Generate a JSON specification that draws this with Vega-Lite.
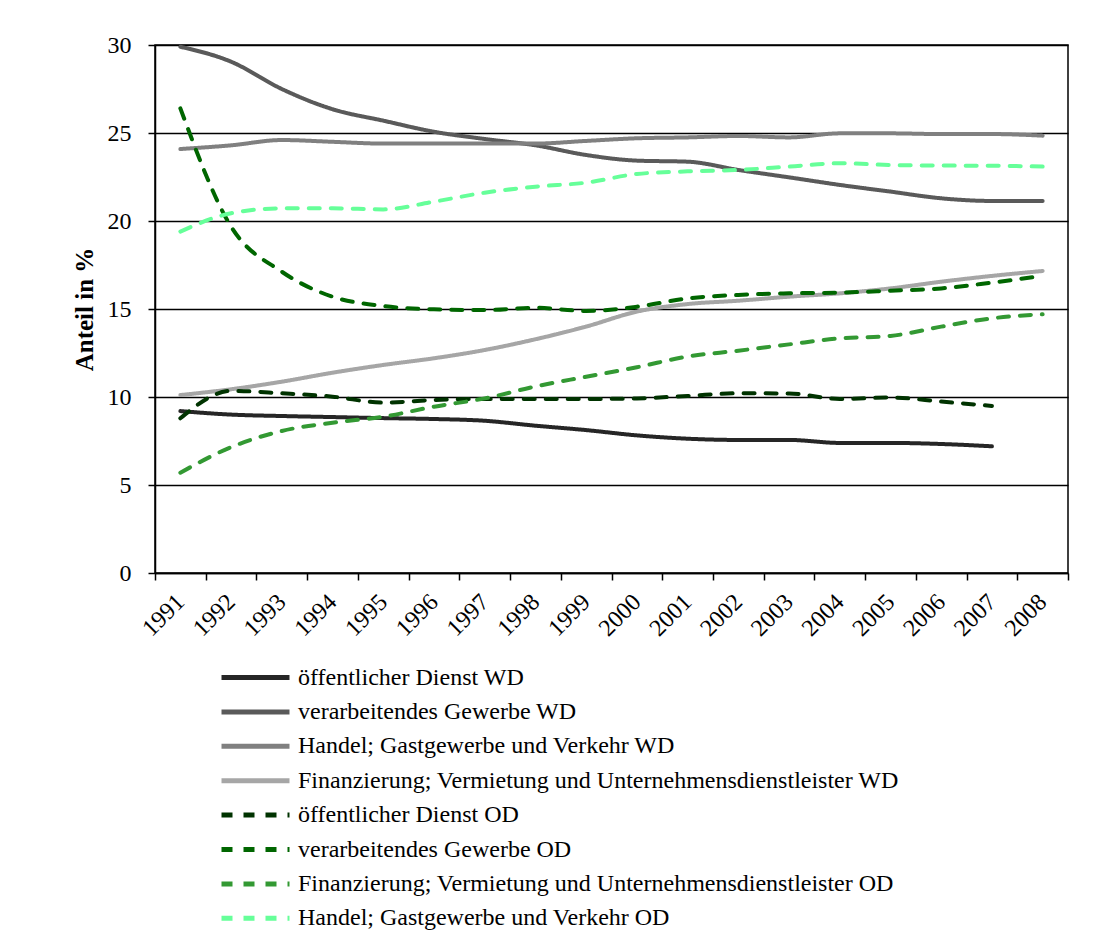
{
  "$schema": "https://vega.github.io/schema/vega-lite/v6.json",
  "autosize": {"type": "none"},
  "width": 913,
  "height": 528,
  "padding": {"left": 155, "top": 45, "right": 51, "bottom": 370},
  "background": "white",
  "config": {
    "font": "Liberation Serif",
    "view": {"stroke": "black", "strokeWidth": 1.5},
    "axis": {"labelFont": "Liberation Serif", "titleFont": "Liberation Serif", "labelColor": "black", "titleColor": "black", "domainColor": "black", "tickColor": "black", "domainWidth": 1.5, "tickWidth": 1.5}
  },
  "data": {
    "values": [
      {"y":"1991","s":"öffentlicher Dienst WD","v":9.2},{"y":"1992","s":"öffentlicher Dienst WD","v":9.0},{"y":"1993","s":"öffentlicher Dienst WD","v":8.92},{"y":"1994","s":"öffentlicher Dienst WD","v":8.86},{"y":"1995","s":"öffentlicher Dienst WD","v":8.8},{"y":"1996","s":"öffentlicher Dienst WD","v":8.75},{"y":"1997","s":"öffentlicher Dienst WD","v":8.65},{"y":"1998","s":"öffentlicher Dienst WD","v":8.37},{"y":"1999","s":"öffentlicher Dienst WD","v":8.12},{"y":"2000","s":"öffentlicher Dienst WD","v":7.82},{"y":"2001","s":"öffentlicher Dienst WD","v":7.63},{"y":"2002","s":"öffentlicher Dienst WD","v":7.56},{"y":"2003","s":"öffentlicher Dienst WD","v":7.56},{"y":"2004","s":"öffentlicher Dienst WD","v":7.39},{"y":"2005","s":"öffentlicher Dienst WD","v":7.39},{"y":"2006","s":"öffentlicher Dienst WD","v":7.33},{"y":"2007","s":"öffentlicher Dienst WD","v":7.2},
      {"y":"1991","s":"verarbeitendes Gewerbe WD","v":29.9},{"y":"1992","s":"verarbeitendes Gewerbe WD","v":29.05},{"y":"1993","s":"verarbeitendes Gewerbe WD","v":27.5},{"y":"1994","s":"verarbeitendes Gewerbe WD","v":26.35},{"y":"1995","s":"verarbeitendes Gewerbe WD","v":25.7},{"y":"1996","s":"verarbeitendes Gewerbe WD","v":25.07},{"y":"1997","s":"verarbeitendes Gewerbe WD","v":24.66},{"y":"1998","s":"verarbeitendes Gewerbe WD","v":24.3},{"y":"1999","s":"verarbeitendes Gewerbe WD","v":23.75},{"y":"2000","s":"verarbeitendes Gewerbe WD","v":23.43},{"y":"2001","s":"verarbeitendes Gewerbe WD","v":23.37},{"y":"2002","s":"verarbeitendes Gewerbe WD","v":22.9},{"y":"2003","s":"verarbeitendes Gewerbe WD","v":22.48},{"y":"2004","s":"verarbeitendes Gewerbe WD","v":22.05},{"y":"2005","s":"verarbeitendes Gewerbe WD","v":21.67},{"y":"2006","s":"verarbeitendes Gewerbe WD","v":21.29},{"y":"2007","s":"verarbeitendes Gewerbe WD","v":21.14},{"y":"2008","s":"verarbeitendes Gewerbe WD","v":21.14},
      {"y":"1991","s":"Handel; Gastgewerbe und Verkehr WD","v":24.09},{"y":"1992","s":"Handel; Gastgewerbe und Verkehr WD","v":24.3},{"y":"1993","s":"Handel; Gastgewerbe und Verkehr WD","v":24.6},{"y":"1994","s":"Handel; Gastgewerbe und Verkehr WD","v":24.5},{"y":"1995","s":"Handel; Gastgewerbe und Verkehr WD","v":24.4},{"y":"1996","s":"Handel; Gastgewerbe und Verkehr WD","v":24.4},{"y":"1997","s":"Handel; Gastgewerbe und Verkehr WD","v":24.4},{"y":"1998","s":"Handel; Gastgewerbe und Verkehr WD","v":24.4},{"y":"1999","s":"Handel; Gastgewerbe und Verkehr WD","v":24.55},{"y":"2000","s":"Handel; Gastgewerbe und Verkehr WD","v":24.7},{"y":"2001","s":"Handel; Gastgewerbe und Verkehr WD","v":24.75},{"y":"2002","s":"Handel; Gastgewerbe und Verkehr WD","v":24.83},{"y":"2003","s":"Handel; Gastgewerbe und Verkehr WD","v":24.75},{"y":"2004","s":"Handel; Gastgewerbe und Verkehr WD","v":24.98},{"y":"2005","s":"Handel; Gastgewerbe und Verkehr WD","v":24.98},{"y":"2006","s":"Handel; Gastgewerbe und Verkehr WD","v":24.94},{"y":"2007","s":"Handel; Gastgewerbe und Verkehr WD","v":24.94},{"y":"2008","s":"Handel; Gastgewerbe und Verkehr WD","v":24.85},
      {"y":"1991","s":"Finanzierung; Vermietung und Unternehmensdienstleister WD","v":10.11},{"y":"1992","s":"Finanzierung; Vermietung und Unternehmensdienstleister WD","v":10.44},{"y":"1993","s":"Finanzierung; Vermietung und Unternehmensdienstleister WD","v":10.87},{"y":"1994","s":"Finanzierung; Vermietung und Unternehmensdienstleister WD","v":11.38},{"y":"1995","s":"Finanzierung; Vermietung und Unternehmensdienstleister WD","v":11.82},{"y":"1996","s":"Finanzierung; Vermietung und Unternehmensdienstleister WD","v":12.2},{"y":"1997","s":"Finanzierung; Vermietung und Unternehmensdienstleister WD","v":12.67},{"y":"1998","s":"Finanzierung; Vermietung und Unternehmensdienstleister WD","v":13.28},{"y":"1999","s":"Finanzierung; Vermietung und Unternehmensdienstleister WD","v":14.0},{"y":"2000","s":"Finanzierung; Vermietung und Unternehmensdienstleister WD","v":14.85},{"y":"2001","s":"Finanzierung; Vermietung und Unternehmensdienstleister WD","v":15.28},{"y":"2002","s":"Finanzierung; Vermietung und Unternehmensdienstleister WD","v":15.47},{"y":"2003","s":"Finanzierung; Vermietung und Unternehmensdienstleister WD","v":15.7},{"y":"2004","s":"Finanzierung; Vermietung und Unternehmensdienstleister WD","v":15.89},{"y":"2005","s":"Finanzierung; Vermietung und Unternehmensdienstleister WD","v":16.17},{"y":"2006","s":"Finanzierung; Vermietung und Unternehmensdienstleister WD","v":16.55},{"y":"2007","s":"Finanzierung; Vermietung und Unternehmensdienstleister WD","v":16.88},{"y":"2008","s":"Finanzierung; Vermietung und Unternehmensdienstleister WD","v":17.16},
      {"y":"1991","s":"öffentlicher Dienst OD","v":8.79},{"y":"1992","s":"öffentlicher Dienst OD","v":10.35},{"y":"1993","s":"öffentlicher Dienst OD","v":10.21},{"y":"1994","s":"öffentlicher Dienst OD","v":10.02},{"y":"1995","s":"öffentlicher Dienst OD","v":9.68},{"y":"1996","s":"öffentlicher Dienst OD","v":9.83},{"y":"1997","s":"öffentlicher Dienst OD","v":9.89},{"y":"1998","s":"öffentlicher Dienst OD","v":9.89},{"y":"1999","s":"öffentlicher Dienst OD","v":9.89},{"y":"2000","s":"öffentlicher Dienst OD","v":9.92},{"y":"2001","s":"öffentlicher Dienst OD","v":10.06},{"y":"2002","s":"öffentlicher Dienst OD","v":10.21},{"y":"2003","s":"öffentlicher Dienst OD","v":10.2},{"y":"2004","s":"öffentlicher Dienst OD","v":9.89},{"y":"2005","s":"öffentlicher Dienst OD","v":9.97},{"y":"2006","s":"öffentlicher Dienst OD","v":9.74},{"y":"2007","s":"öffentlicher Dienst OD","v":9.49},
      {"y":"1991","s":"verarbeitendes Gewerbe OD","v":26.4},{"y":"1992","s":"verarbeitendes Gewerbe OD","v":19.68},{"y":"1993","s":"verarbeitendes Gewerbe OD","v":17.12},{"y":"1994","s":"verarbeitendes Gewerbe OD","v":15.7},{"y":"1995","s":"verarbeitendes Gewerbe OD","v":15.17},{"y":"1996","s":"verarbeitendes Gewerbe OD","v":14.98},{"y":"1997","s":"verarbeitendes Gewerbe OD","v":14.94},{"y":"1998","s":"verarbeitendes Gewerbe OD","v":15.07},{"y":"1999","s":"verarbeitendes Gewerbe OD","v":14.89},{"y":"2000","s":"verarbeitendes Gewerbe OD","v":15.13},{"y":"2001","s":"verarbeitendes Gewerbe OD","v":15.6},{"y":"2002","s":"verarbeitendes Gewerbe OD","v":15.8},{"y":"2003","s":"verarbeitendes Gewerbe OD","v":15.89},{"y":"2004","s":"verarbeitendes Gewerbe OD","v":15.93},{"y":"2005","s":"verarbeitendes Gewerbe OD","v":16.04},{"y":"2006","s":"verarbeitendes Gewerbe OD","v":16.17},{"y":"2007","s":"verarbeitendes Gewerbe OD","v":16.5},{"y":"2008","s":"verarbeitendes Gewerbe OD","v":16.88},
      {"y":"1991","s":"Finanzierung; Vermietung und Unternehmensdienstleister OD","v":5.7},{"y":"1992","s":"Finanzierung; Vermietung und Unternehmensdienstleister OD","v":7.15},{"y":"1993","s":"Finanzierung; Vermietung und Unternehmensdienstleister OD","v":8.07},{"y":"1994","s":"Finanzierung; Vermietung und Unternehmensdienstleister OD","v":8.54},{"y":"1995","s":"Finanzierung; Vermietung und Unternehmensdienstleister OD","v":8.88},{"y":"1996","s":"Finanzierung; Vermietung und Unternehmensdienstleister OD","v":9.45},{"y":"1997","s":"Finanzierung; Vermietung und Unternehmensdienstleister OD","v":9.92},{"y":"1998","s":"Finanzierung; Vermietung und Unternehmensdienstleister OD","v":10.6},{"y":"1999","s":"Finanzierung; Vermietung und Unternehmensdienstleister OD","v":11.15},{"y":"2000","s":"Finanzierung; Vermietung und Unternehmensdienstleister OD","v":11.69},{"y":"2001","s":"Finanzierung; Vermietung und Unternehmensdienstleister OD","v":12.3},{"y":"2002","s":"Finanzierung; Vermietung und Unternehmensdienstleister OD","v":12.63},{"y":"2003","s":"Finanzierung; Vermietung und Unternehmensdienstleister OD","v":12.99},{"y":"2004","s":"Finanzierung; Vermietung und Unternehmensdienstleister OD","v":13.33},{"y":"2005","s":"Finanzierung; Vermietung und Unternehmensdienstleister OD","v":13.47},{"y":"2006","s":"Finanzierung; Vermietung und Unternehmensdienstleister OD","v":14.0},{"y":"2007","s":"Finanzierung; Vermietung und Unternehmensdienstleister OD","v":14.47},{"y":"2008","s":"Finanzierung; Vermietung und Unternehmensdienstleister OD","v":14.7},
      {"y":"1991","s":"Handel; Gastgewerbe und Verkehr OD","v":19.4},{"y":"1992","s":"Handel; Gastgewerbe und Verkehr OD","v":20.44},{"y":"1993","s":"Handel; Gastgewerbe und Verkehr OD","v":20.72},{"y":"1994","s":"Handel; Gastgewerbe und Verkehr OD","v":20.72},{"y":"1995","s":"Handel; Gastgewerbe und Verkehr OD","v":20.66},{"y":"1996","s":"Handel; Gastgewerbe und Verkehr OD","v":21.1},{"y":"1997","s":"Handel; Gastgewerbe und Verkehr OD","v":21.61},{"y":"1998","s":"Handel; Gastgewerbe und Verkehr OD","v":21.95},{"y":"1999","s":"Handel; Gastgewerbe und Verkehr OD","v":22.18},{"y":"2000","s":"Handel; Gastgewerbe und Verkehr OD","v":22.67},{"y":"2001","s":"Handel; Gastgewerbe und Verkehr OD","v":22.82},{"y":"2002","s":"Handel; Gastgewerbe und Verkehr OD","v":22.9},{"y":"2003","s":"Handel; Gastgewerbe und Verkehr OD","v":23.09},{"y":"2004","s":"Handel; Gastgewerbe und Verkehr OD","v":23.28},{"y":"2005","s":"Handel; Gastgewerbe und Verkehr OD","v":23.18},{"y":"2006","s":"Handel; Gastgewerbe und Verkehr OD","v":23.15},{"y":"2007","s":"Handel; Gastgewerbe und Verkehr OD","v":23.14},{"y":"2008","s":"Handel; Gastgewerbe und Verkehr OD","v":23.09}
    ]
  },
  "mark": {"type": "line", "interpolate": "monotone", "strokeWidth": 4, "strokeCap": "round", "strokeJoin": "round"},
  "encoding": {
    "x": {
      "field": "y", "type": "ordinal",
      "scale": {"type": "band", "paddingInner": 0, "paddingOuter": 0},
      "axis": {"title": null, "labelAngle": -45, "labelFontSize": 24, "tickBand": "extent", "tickSize": 7, "labelPadding": 18, "grid": false, "labelAlign": "right", "labelBaseline": "middle"}
    },
    "y": {
      "field": "v", "type": "quantitative",
      "scale": {"domain": [0, 30], "nice": false, "zero": true},
      "axis": {"title": "Anteil in %", "titleFontSize": 25, "titleFontWeight": "bold", "titlePadding": 10, "labelFontSize": 24, "values": [0,5,10,15,20,25,30], "tickSize": 7, "labelPadding": 17, "grid": true, "gridColor": "black", "gridWidth": 1.5, "gridOpacity": 1}
    },
    "color": {
      "field": "s", "type": "nominal",
      "scale": {
        "domain": ["öffentlicher Dienst WD","verarbeitendes Gewerbe WD","Handel; Gastgewerbe und Verkehr WD","Finanzierung; Vermietung und Unternehmensdienstleister WD","öffentlicher Dienst OD","verarbeitendes Gewerbe OD","Finanzierung; Vermietung und Unternehmensdienstleister OD","Handel; Gastgewerbe und Verkehr OD"],
        "range": ["#262626","#5a5a5a","#808080","#a6a6a6","#003300","#006600","#339933","#66ff99"]
      },
      "legend": {
        "title": null, "orient": "none", "legendX": 64, "legendY": 613, "padding": 0,
        "labelFontSize": 24, "labelFont": "Liberation Serif", "labelColor": "black", "labelLimit": 900,
        "symbolType": "M-1,0H3", "symbolSize": 1156, "symbolStrokeWidth": 5, "rowPadding": 2.4, "labelOffset": 40
      }
    },
    "strokeDash": {
      "field": "s", "type": "nominal",
      "scale": {
        "domain": ["öffentlicher Dienst WD","verarbeitendes Gewerbe WD","Handel; Gastgewerbe und Verkehr WD","Finanzierung; Vermietung und Unternehmensdienstleister WD","öffentlicher Dienst OD","verarbeitendes Gewerbe OD","Finanzierung; Vermietung und Unternehmensdienstleister OD","Handel; Gastgewerbe und Verkehr OD"],
        "range": [[1,0],[1,0],[1,0],[1,0],[11,11],[11,11],[11,11],[11,11]]
      },
      "legend": null
    }
  }
}
